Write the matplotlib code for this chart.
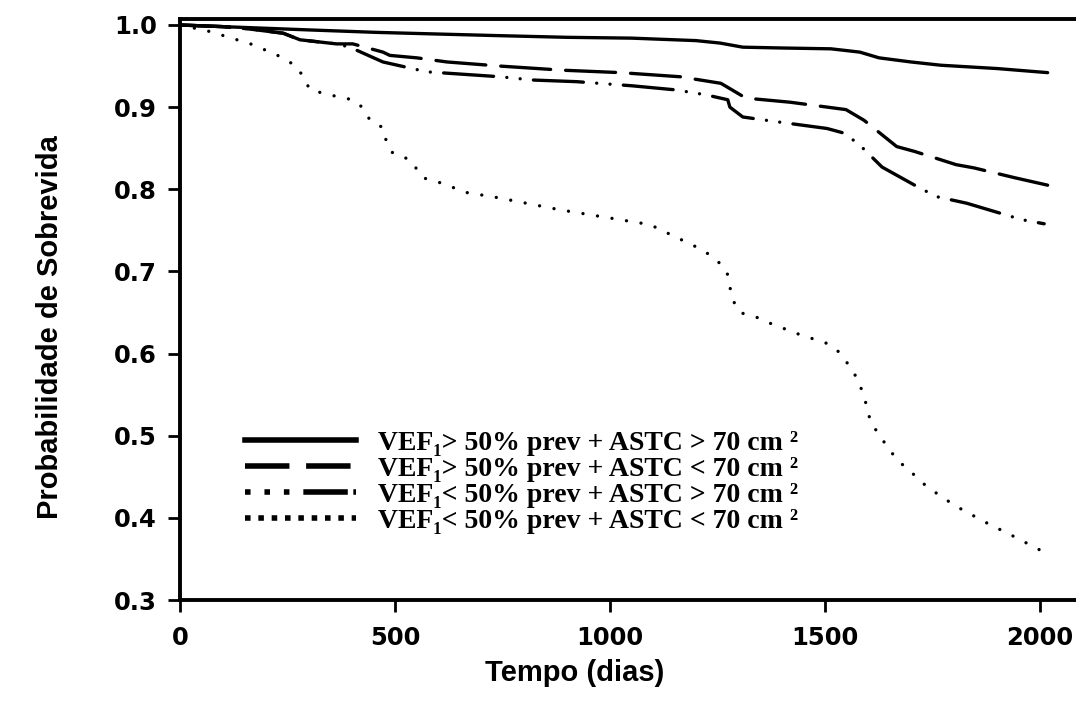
import matplotlib
matplotlib.use("Agg")
import matplotlib.pyplot as plt
from matplotlib.lines import Line2D

# ---------------- data ----------------
days_s1 = [0, 100, 200, 300, 458, 600, 744, 900, 1050, 1200, 1256, 1309, 1400, 1514, 1581, 1626, 1700, 1770, 1900, 2018]
surv_s1 = [1.0, 0.998, 0.996, 0.994, 0.991, 0.989, 0.987, 0.985, 0.984, 0.981, 0.978, 0.973, 0.972, 0.971, 0.967, 0.960, 0.955, 0.951, 0.947, 0.942]

days_s2 = [0, 100, 163, 240, 279, 364, 402, 472, 488, 551, 621, 744, 889, 1025, 1163, 1258, 1284, 1316, 1419, 1549, 1591, 1667, 1709, 1805, 1847, 1942, 2018]
surv_s2 = [1.0, 0.998, 0.995, 0.99, 0.982, 0.977, 0.977, 0.967, 0.963, 0.960, 0.955, 0.950, 0.945, 0.942, 0.937, 0.929, 0.921, 0.911, 0.906, 0.897, 0.884, 0.852, 0.846, 0.830, 0.826, 0.814, 0.805]

days_s3 = [0, 100, 163, 240, 279, 364, 395, 472, 574, 744, 821, 923, 1051, 1153, 1223, 1274, 1279, 1309, 1377, 1505, 1540, 1577, 1600, 1633, 1719, 1760, 1830, 1958, 2010]
surv_s3 = [1.0, 0.998, 0.995, 0.99, 0.982, 0.977, 0.973, 0.955, 0.943, 0.937, 0.933, 0.931, 0.926, 0.921, 0.915, 0.909, 0.900, 0.888, 0.883, 0.874, 0.869, 0.856, 0.844, 0.827, 0.802, 0.791, 0.783, 0.763, 0.758]

days_s4 = [0, 70, 170, 240, 272, 291, 302, 372, 402, 426, 442, 472, 481, 495, 535, 565, 605, 667, 737, 884, 1093, 1216, 1248, 1272, 1279, 1286, 1302, 1342, 1372, 1437, 1507, 1535, 1558, 1577, 1588, 1598, 1605, 1623, 1667, 1702, 1737, 1802, 1872, 1937, 2007]
surv_s4 = [1.0, 0.992, 0.976, 0.960, 0.949, 0.933, 0.921, 0.912, 0.909, 0.899, 0.884, 0.875, 0.856, 0.844, 0.836, 0.814, 0.808, 0.796, 0.790, 0.775, 0.757, 0.726, 0.714, 0.700, 0.681, 0.665, 0.650, 0.644, 0.637, 0.624, 0.612, 0.601, 0.584, 0.568, 0.552, 0.535, 0.519, 0.503, 0.471, 0.455, 0.438, 0.415, 0.395, 0.378, 0.359]

labels = [
    "VEF\u2081> 50% prev + ASTC > 70 cm \u00b2",
    "VEF\u2081> 50% prev + ASTC < 70 cm \u00b2",
    "VEF\u2081< 50% prev + ASTC > 70 cm \u00b2",
    "VEF\u2081< 50% prev + ASTC < 70 cm \u00b2",
]
xticks = [0, 500, 1000, 1500, 2000]
yticks = [0.3, 0.4, 0.5, 0.6, 0.7, 0.8, 0.9, 1.0]

# ---------------- figure ----------------
fig = plt.figure(figsize=(10.76, 7.04), dpi=100)
ax = fig.add_axes([180/1076, 1 - 600/704, 896/1076, 581/704])

styles = [
    dict(linestyle='-'),
    dict(linestyle=(0, (15, 4.5))),
    dict(linestyle=(0, (15, 4, 0.01, 4, 0.01, 4))),
    dict(linestyle=(0, (0.01, 4.4))),
]
series = [(days_s1, surv_s1), (days_s2, surv_s2), (days_s3, surv_s3), (days_s4, surv_s4)]
for (d, s), st in zip(series, styles):
    ax.plot(d, s, color='black', lw=2.4, solid_capstyle='round',
            dash_capstyle='round', **st)

ax.set_xlim(0, 2084)
ax.set_ylim(0.3, 1.0073)
ax.set_xticks(xticks)
ax.set_xticklabels([str(t) for t in xticks])
ax.set_yticks(yticks)
ax.set_yticklabels([f"{t:.1f}" for t in yticks])

for sp in ['left', 'bottom', 'top']:
    ax.spines[sp].set_linewidth(2.8)
ax.spines['right'].set_visible(False)

ax.tick_params(axis='both', direction='out', length=8.5, width=2, colors='black')
ax.tick_params(axis='y', pad=8)
ax.tick_params(axis='x', pad=10)
for lab in ax.get_xticklabels() + ax.get_yticklabels():
    lab.set_fontfamily('DejaVu Sans')
    lab.set_fontweight('heavy')
    lab.set_fontsize(17.5)

ax.set_xlabel('Tempo (dias)', fontfamily='Liberation Sans', fontweight='bold', fontsize=21)
ax.set_ylabel('Probabilidade de Sobrevida', fontfamily='Liberation Sans', fontweight='bold', fontsize=21)
ax.xaxis.set_label_coords(0.44, -0.1015)
ax.yaxis.set_label_coords(-0.13, 0.47)

# legend with thicker handles
leg_styles = [
    dict(linestyle='-'),
    dict(linestyle=(0, (8, 3))),
    dict(linestyle=(0, (1, 2.5, 1, 2.5, 1, 2.5, 8, 1))),
    dict(linestyle=(0, (1, 1.4))),
]
handles = [Line2D([], [], color='black', lw=4, **st) for st in leg_styles]
leg = ax.legend(handles, labels, loc='center left', bbox_to_anchor=(0.0725, 0.203),
                frameon=False, handlelength=4.0, handletextpad=0.8,
                labelspacing=0.02, borderpad=0, borderaxespad=0,
                prop={'family': ['Liberation Serif', 'DejaVu Serif'], 'weight': 'bold', 'size': 20})

fig.savefig('out.png', dpi=100, facecolor='white')
